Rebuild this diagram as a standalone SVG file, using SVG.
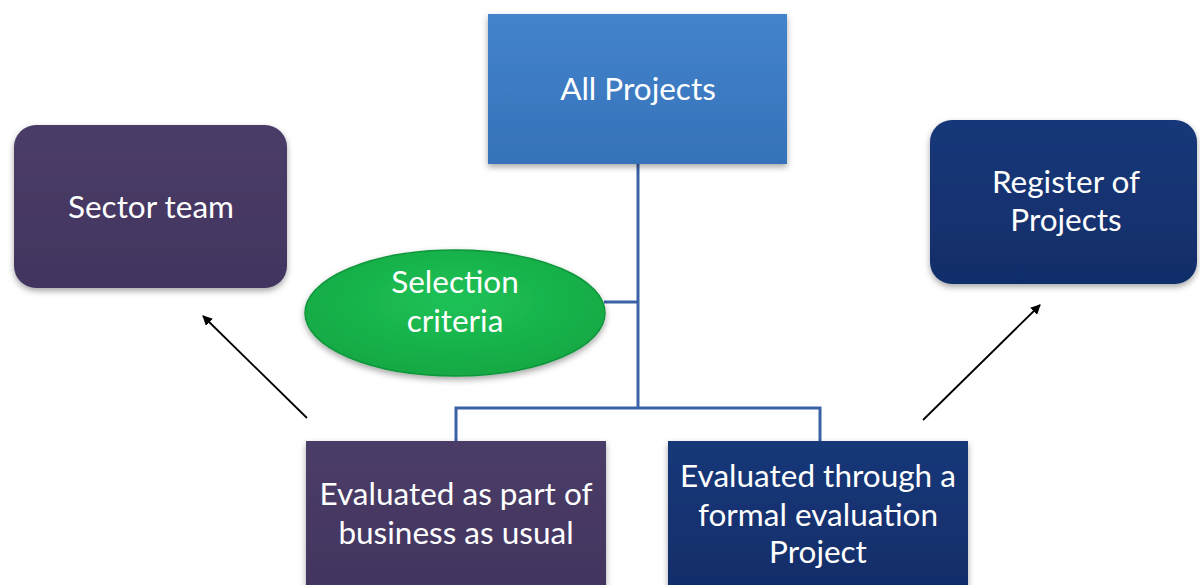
<svg xmlns="http://www.w3.org/2000/svg" width="1200" height="585" viewBox="0 0 1200 585">
<style>
.t{font-family:Lato,"Open Sans","Liberation Sans",sans-serif;font-size:31.5px;fill:#ffffff;text-anchor:middle}
.c{fill:none;stroke:#3a62a6;stroke-width:3}
.a{fill:none;stroke:#000000;stroke-width:1.8}
</style>
<defs>
<linearGradient id="gBlue" x1="0" y1="0" x2="0" y2="1">
<stop offset="0" stop-color="#4384cc"/><stop offset="1" stop-color="#3572b9"/>
</linearGradient>
<linearGradient id="gPurple" x1="0" y1="0" x2="0" y2="1">
<stop offset="0" stop-color="#4a3d68"/><stop offset="1" stop-color="#42355f"/>
</linearGradient>
<linearGradient id="gNavy" x1="0" y1="0" x2="0" y2="1">
<stop offset="0" stop-color="#163879"/><stop offset="1" stop-color="#112d69"/>
</linearGradient>
<radialGradient id="gGreen" cx="0.5" cy="0.4" r="0.6">
<stop offset="0" stop-color="#1fc257"/><stop offset="1" stop-color="#12a843"/>
</radialGradient>
<filter id="sh" x="-10%" y="-10%" width="120%" height="130%">
<feDropShadow dx="0" dy="3" stdDeviation="3" flood-color="#000" flood-opacity="0.35"/>
</filter>
<marker id="ah" viewBox="0 0 10 10" refX="9" refY="5" markerWidth="10" markerHeight="10" markerUnits="userSpaceOnUse" orient="auto">
<path d="M0,0 L10,5 L0,10 z" fill="#000"/>
</marker>
</defs>
<rect width="1200" height="585" fill="#ffffff"/>
<g id="connectors">
<line class="c" x1="638" y1="164" x2="638" y2="408"/>
<line class="c" x1="604" y1="302" x2="638" y2="302"/>
<polyline class="c" points="456,441 456,408 820,408 820,441"/>
<line class="a" x1="307" y1="418" x2="203" y2="316" marker-end="url(#ah)"/>
<line class="a" x1="923" y1="420" x2="1040" y2="305" marker-end="url(#ah)"/>
</g>
<g id="all-projects">
<rect x="488" y="14" width="299" height="150" fill="url(#gBlue)" filter="url(#sh)"/>
<text class="t" x="638" y="100">All Projects</text>
</g>
<g id="sector-team">
<rect x="14" y="125" width="273" height="163" rx="22" fill="url(#gPurple)" filter="url(#sh)"/>
<text class="t" x="151" y="218">Sector team</text>
</g>
<g id="register">
<rect x="930" y="120" width="267" height="164" rx="22" fill="url(#gNavy)" filter="url(#sh)"/>
<text class="t" x="1066" y="193">Register of</text>
<text class="t" x="1066" y="231">Projects</text>
</g>
<g id="selection-criteria">
<ellipse cx="455" cy="313" rx="150" ry="63" fill="url(#gGreen)" stroke="#10963b" stroke-width="1.5" filter="url(#sh)"/>
<text class="t" x="455" y="293">Selection</text>
<text class="t" x="455" y="332">criteria</text>
</g>
<g id="business-as-usual">
<rect x="306" y="441" width="300" height="150" fill="url(#gPurple)" filter="url(#sh)"/>
<text class="t" x="456" y="505">Evaluated as part of</text>
<text class="t" x="456" y="544">business as usual</text>
</g>
<g id="formal-evaluation">
<rect x="668" y="441" width="300" height="150" fill="url(#gNavy)" filter="url(#sh)"/>
<text class="t" x="818" y="487">Evaluated through a</text>
<text class="t" x="818" y="526">formal evaluation</text>
<text class="t" x="818" y="563">Project</text>
</g>
</svg>
